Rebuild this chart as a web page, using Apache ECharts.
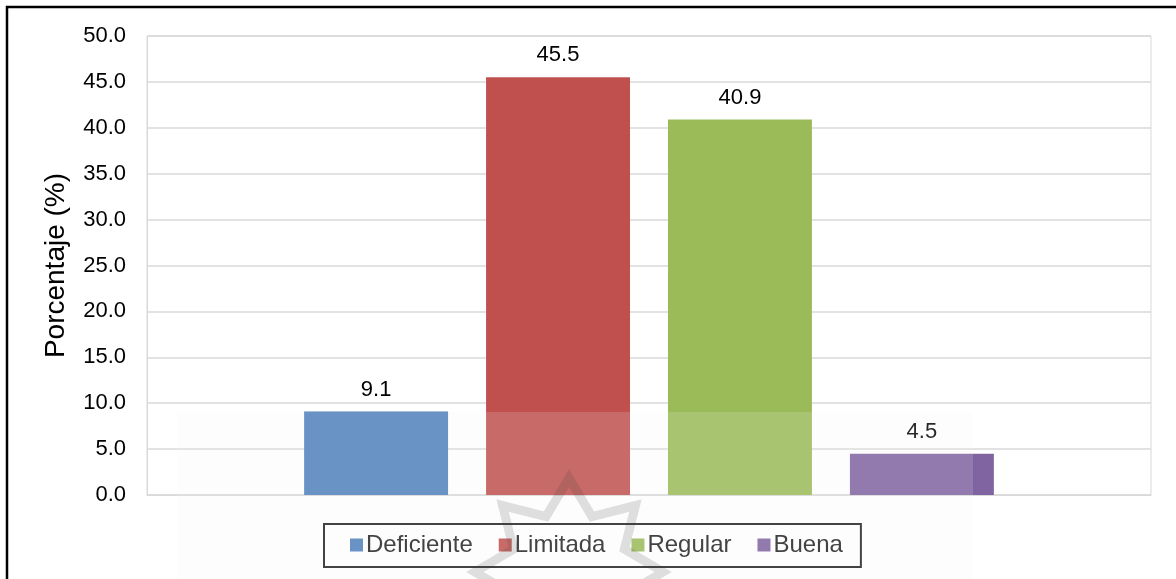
<!DOCTYPE html>
<html>
<head>
<meta charset="utf-8">
<script src="https://cdn.jsdelivr.net/npm/echarts@6/dist/echarts.min.js"></script>
<style>
  html, body { margin: 0; padding: 0; background: #fff; }
  #chart { width: 1176px; height: 579px; }
</style>
</head>
<body>
<div id="chart"></div>
<script>
// Rating levels and their share of responses (%)
const levels = ['Deficiente', 'Limitada', 'Regular', 'Buena'];
const percentages = [9.1, 45.5, 40.9, 4.5];
const levelColors = ['#4F81BD', '#C0504D', '#9BBB59', '#8064A2'];
const category = [''];

const FONT = '"Liberation Sans", Arial, sans-serif';

// Eight-pointed star outline used in the seal drawn over the lower band
function starPoints(cx, cy, rOuter, rInner, n) {
  const pts = [];
  for (let i = 0; i < n * 2; i++) {
    const r = i % 2 === 0 ? rOuter : rInner;
    const a = -Math.PI / 2 + i * Math.PI / n;
    pts.push([cx + r * Math.cos(a), cy + r * Math.sin(a)]);
  }
  return pts;
}

const series = levels.map((name, i) => ({
  name: name,
  type: 'bar',
  data: [percentages[i]],
  itemStyle: { color: levelColors[i] },
  barGap: '26.4%',
  barCategoryGap: '31.3%',
  label: {
    show: true,
    position: 'top',
    distance: 11,
    formatter: p => p.value.toFixed(1),
    color: '#000',
    fontFamily: FONT,
    fontSize: 22
  }
}));

const chart = echarts.init(document.getElementById('chart'), null, { renderer: 'canvas' });
chart.setOption({
  animation: false,
  backgroundColor: '#fff',
  grid: {
    left: 147, right: 25, top: 36, bottom: 84,
    show: true, borderColor: '#d9d9d9', borderWidth: 1
  },
  legend: {
    data: levels,
    left: 324, top: 524,
    orient: 'horizontal',
    itemWidth: 13, itemHeight: 13,
    itemGap: 26,
    icon: 'rect',
    borderColor: '#222', borderWidth: 2,
    padding: [9, 18, 10, 26],
    textStyle: { fontFamily: FONT, fontSize: 24, color: '#222', padding: [0, 0, 0, -2] }
  },
  xAxis: {
    type: 'category',
    data: category,
    axisLine: { lineStyle: { color: '#d9d9d9', width: 1 } },
    axisTick: { show: false },
    axisLabel: { show: false }
  },
  yAxis: {
    type: 'value',
    min: 0, max: 50, interval: 5,
    name: 'Porcentaje (%)',
    nameLocation: 'middle',
    nameGap: 77,
    nameTextStyle: { fontFamily: FONT, fontSize: 28, color: '#000' },
    axisLine: { show: true, lineStyle: { color: '#d9d9d9' } },
    axisTick: { show: false },
    axisLabel: {
      margin: 21,
      formatter: v => v.toFixed(1),
      fontFamily: FONT, fontSize: 22, color: '#000'
    },
    splitLine: { lineStyle: { color: '#d9d9d9', width: 1.5 } }
  },
  series: series,
  graphic: [
    {
      type: 'rect',
      z: 100,
      silent: true,
      shape: { x: 177, y: 412, width: 796, height: 200 },
      style: { fill: 'rgba(245,245,245,0.16)' }
    },
    {
      type: 'polygon',
      z: 101,
      silent: true,
      shape: { points: starPoints(569, 572, 94, 60, 8) },
      style: { fill: 'none', stroke: 'rgba(60,60,60,0.16)', lineWidth: 9, lineJoin: 'miter' }
    },
    {
      type: 'rect',
      z: 102,
      silent: true,
      shape: { x: 7, y: 7, width: 1200, height: 600 },
      style: { fill: 'none', stroke: '#000', lineWidth: 2.5 }
    }
  ]
});
</script>
</body>
</html>
